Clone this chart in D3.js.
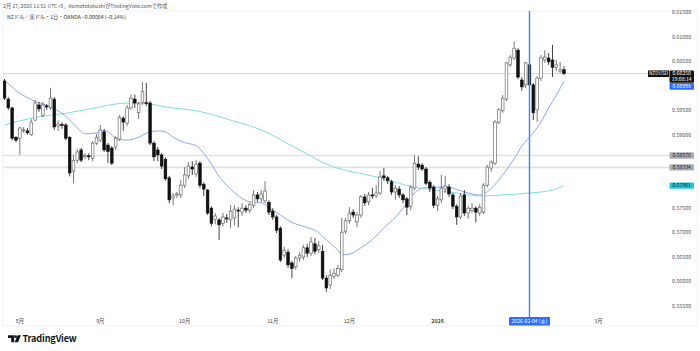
<!DOCTYPE html>
<html lang="ja">
<head>
<meta charset="UTF-8">
<title>NZDUSD 1D</title>
<script src="https://d3js.org/d3.v7.min.js"></script>
<style>
  body { margin: 0; background: #fff; }
  text { font-family: "Noto Sans CJK JP", "Noto Sans", sans-serif; }
</style>
</head>
<body>
<svg id="chart" width="700" height="351"></svg>
<script>
// daily bars, weekdays from 2025-07-28 to 2026-02-17
const firstDay = "2025-07-28";
const opens = [0.6010,0.5973,0.5955,0.5895,0.5893,0.5908,0.5908,0.5900,0.5930,0.5961,0.5940,0.5959,0.5955,0.5973,0.5918,0.5921,0.5920,0.5895,0.5826,0.5848,
  0.5869,0.5855,0.5857,0.5852,0.5883,0.5889,0.5906,0.5879,0.5873,0.5875,0.5891,0.5934,0.5924,0.5955,0.5973,0.5945,0.5966,0.5966,0.5965,0.5883,
  0.5869,0.5859,0.5850,0.5812,0.5771,0.5777,0.5777,0.5797,0.5816,0.5834,0.5820,0.5842,0.5799,0.5787,0.5750,0.5727,0.5726,0.5719,0.5730,0.5726,
  0.5730,0.5746,0.5742,0.5750,0.5746,0.5756,0.5777,0.5769,0.5765,0.5762,0.5744,0.5732,0.5709,0.5654,0.5660,0.5638,0.5630,0.5648,0.5650,0.5669,
  0.5658,0.5677,0.5665,0.5662,0.5607,0.5593,0.5611,0.5613,0.5624,0.5703,0.5724,0.5742,0.5722,0.5736,0.5773,0.5763,0.5777,0.5775,0.5781,0.5816,
  0.5812,0.5804,0.5783,0.5789,0.5777,0.5769,0.5754,0.5791,0.5840,0.5838,0.5830,0.5803,0.5793,0.5756,0.5767,0.5789,0.5793,0.5777,0.5754,0.5732,
  0.5777,0.5740,0.5745,0.5750,0.5740,0.5742,0.5797,0.5832,0.5842,0.5926,0.5949,0.5973,0.6043,0.6057,0.6073,0.6012,0.6002,0.6043,0.6002,0.5951,
  0.6016,0.6053,0.6057,0.6053,0.6038,0.6030,0.6033];
const highs = [0.6014,0.5977,0.5957,0.5897,0.5916,0.5916,0.5914,0.5932,0.5971,0.5967,0.5967,0.5963,0.5996,0.5977,0.5930,0.5926,0.5924,0.5897,0.5859,0.5871,
  0.5873,0.5863,0.5862,0.5887,0.5902,0.5920,0.5912,0.5883,0.5877,0.5897,0.5940,0.5938,0.5961,0.5982,0.5982,0.5967,0.6008,0.6006,0.5969,0.5887,
  0.5875,0.5863,0.5854,0.5816,0.5781,0.5783,0.5807,0.5834,0.5844,0.5846,0.5848,0.5846,0.5803,0.5789,0.5754,0.5740,0.5730,0.5740,0.5738,0.5756,
  0.5756,0.5752,0.5760,0.5756,0.5762,0.5787,0.5783,0.5787,0.5805,0.5766,0.5750,0.5736,0.5713,0.5671,0.5666,0.5642,0.5652,0.5660,0.5675,0.5677,
  0.5691,0.5689,0.5683,0.5675,0.5613,0.5625,0.5627,0.5634,0.5730,0.5730,0.5752,0.5748,0.5742,0.5777,0.5779,0.5783,0.5791,0.5797,0.5826,0.5832,
  0.5816,0.5808,0.5797,0.5795,0.5781,0.5773,0.5797,0.5858,0.5856,0.5842,0.5834,0.5807,0.5797,0.5775,0.5818,0.5816,0.5799,0.5781,0.5758,0.5781,
  0.5787,0.5754,0.5760,0.5754,0.5758,0.5801,0.5838,0.5848,0.5930,0.5955,0.5981,0.6049,0.6063,0.6091,0.6077,0.6018,0.6049,0.6047,0.6006,0.6020,
  0.6063,0.6073,0.6067,0.6084,0.6053,0.6049,0.6040];
const lows = [0.5971,0.5951,0.5889,0.5885,0.5859,0.5904,0.5900,0.5898,0.5928,0.5947,0.5936,0.5951,0.5951,0.5910,0.5908,0.5912,0.5889,0.5815,0.5801,0.5842,
  0.5844,0.5850,0.5848,0.5846,0.5879,0.5885,0.5865,0.5842,0.5838,0.5869,0.5887,0.5908,0.5918,0.5951,0.5955,0.5932,0.5961,0.5959,0.5879,0.5846,
  0.5846,0.5830,0.5806,0.5760,0.5756,0.5771,0.5771,0.5791,0.5810,0.5818,0.5814,0.5791,0.5775,0.5736,0.5713,0.5717,0.5685,0.5713,0.5720,0.5709,
  0.5715,0.5711,0.5734,0.5740,0.5740,0.5750,0.5763,0.5762,0.5760,0.5736,0.5726,0.5699,0.5640,0.5648,0.5628,0.5607,0.5624,0.5640,0.5644,0.5650,
  0.5652,0.5656,0.5658,0.5603,0.5579,0.5585,0.5605,0.5609,0.5619,0.5697,0.5718,0.5730,0.5711,0.5730,0.5755,0.5756,0.5769,0.5771,0.5777,0.5806,
  0.5799,0.5777,0.5767,0.5771,0.5760,0.5736,0.5746,0.5787,0.5828,0.5826,0.5797,0.5783,0.5750,0.5744,0.5760,0.5781,0.5773,0.5748,0.5716,0.5728,
  0.5734,0.5728,0.5740,0.5721,0.5734,0.5738,0.5793,0.5824,0.5838,0.5922,0.5945,0.5969,0.6039,0.6053,0.6014,0.5990,0.5996,0.5996,0.5930,0.5926,
  0.6010,0.6047,0.6043,0.6018,0.6030,0.6026,0.6022];
const closes = [0.5975,0.5955,0.5893,0.5889,0.5914,0.5910,0.5904,0.5926,0.5965,0.5953,0.5961,0.5957,0.5975,0.5916,0.5922,0.5919,0.5893,0.5822,0.5848,0.5865,
  0.5848,0.5858,0.5855,0.5883,0.5895,0.5910,0.5869,0.5866,0.5842,0.5893,0.5936,0.5926,0.5955,0.5975,0.5965,0.5963,0.5988,0.5964,0.5883,0.5855,
  0.5859,0.5836,0.5810,0.5767,0.5775,0.5779,0.5797,0.5818,0.5836,0.5830,0.5840,0.5797,0.5789,0.5740,0.5719,0.5734,0.5716,0.5732,0.5728,0.5744,
  0.5748,0.5744,0.5750,0.5746,0.5758,0.5777,0.5769,0.5779,0.5785,0.5742,0.5732,0.5705,0.5644,0.5664,0.5634,0.5627,0.5648,0.5654,0.5669,0.5658,
  0.5681,0.5662,0.5673,0.5607,0.5587,0.5613,0.5617,0.5627,0.5701,0.5724,0.5740,0.5736,0.5736,0.5773,0.5761,0.5777,0.5775,0.5781,0.5814,0.5812,
  0.5806,0.5783,0.5791,0.5777,0.5767,0.5752,0.5793,0.5842,0.5834,0.5830,0.5801,0.5791,0.5756,0.5769,0.5791,0.5795,0.5779,0.5754,0.5732,0.5775,
  0.5740,0.5750,0.5750,0.5742,0.5752,0.5797,0.5834,0.5844,0.5926,0.5951,0.5975,0.6047,0.6059,0.6077,0.6018,0.5998,0.6047,0.6002,0.5945,0.6016,
  0.6057,0.6059,0.6049,0.6038,0.6043,0.6033,0.6025];

// moving averages (bar index -> value)
const fastMaBars = [0,4,7,12,16,19,21,24,26,29,32,35,37,40,42,44,47,50,52,54,56,58,60,62,64,67,69,72,75,77,80,82,83,85,87,88,90,93,96,99,102,104,107,109,112,114,116,118,121,124,125,127,130,133,135,137,140,142,144,145,146];
const fastMaValues = [0.6012,0.5985,0.5972,0.5957,0.5938,0.5914,0.5902,0.5904,0.5909,0.5894,0.5889,0.5895,0.5903,0.5908,0.5906,0.5895,0.5884,0.5878,0.5862,0.5840,0.5815,0.5797,0.5782,0.5770,0.5763,0.5761,0.5751,0.5736,0.5721,0.5715,0.5708,0.5700,0.5692,0.5679,0.5664,0.5655,0.5656,0.5669,0.5686,0.5710,0.5731,0.5750,0.5781,0.5791,0.5793,0.5793,0.5793,0.5788,0.5781,0.5777,0.5779,0.5790,0.5818,0.5851,0.5877,0.5895,0.5926,0.5955,0.5981,0.5995,0.60098];
const slowMaBars = [0,7,16,25,29,33,38,42,50,55,59,67,77,86,91,97,102,107,112,118,124,130,137,143,146];
const slowMaValues = [0.5920,0.5934,0.5944,0.5957,0.5963,0.5965,0.5963,0.5957,0.5949,0.5940,0.5930,0.5910,0.5869,0.5834,0.5824,0.5814,0.5803,0.5793,0.5787,0.5781,0.5775,0.5777,0.5781,0.5787,0.57961];

const priceTicks = [0.555,0.560,0.565,0.570,0.575,0.580,0.585,0.590,0.595,0.600,0.605,0.610,0.615];
const hLines = [0.58578, 0.58334];
const lastPrice = 0.60250;
const markedDay = "2026-02-04";

const svg = d3.select("#chart");
const plot = { left: 3, right: 670, top: 11, bottom: 313 };

// trading days
const parse = d3.timeParse("%Y-%m-%d");
const days = d3.timeDay.range(parse(firstDay), parse("2026-03-07"))
  .filter(d => d.getDay() !== 0 && d.getDay() !== 6);
const bars = closes.map((c, i) => ({ i, date: days[i], o: opens[i], h: highs[i], l: lows[i], c }));

const x = d3.scaleLinear().domain([0, 146]).range([4.5, 4.5 + 146 * 3.832]);
const y = d3.scaleLinear().domain([0.555, 0.615]).range([306, 12.5]);

// header
svg.append("text").attr("x", 3).attr("y", 7.5).attr("font-size", 5.2).attr("fill", "#555")
  .text("2月 17, 2026 11:51 UTC+9、domototakushiがTradingView.comで作成");
svg.append("rect").attr("x", plot.left).attr("y", plot.top).attr("width", 694).attr("height", 315)
  .attr("fill", "none").attr("stroke", "#eceef2").attr("stroke-width", 0.8);
svg.append("text").attr("x", 7).attr("y", 18.5).attr("font-size", 5.2).attr("fill", "#333")
  .text("NZドル／米ドル・1日・OANDA  −0.00084 (−0.14%)");

svg.append("clipPath").attr("id", "clip").append("rect")
  .attr("x", plot.left).attr("y", plot.top).attr("width", plot.right - plot.left).attr("height", plot.bottom - plot.top);
const g = svg.append("g").attr("clip-path", "url(#clip)");

// horizontal levels
g.selectAll("line.level").data(hLines).join("line").attr("class", "level")
  .attr("x1", plot.left).attr("x2", plot.right).attr("y1", d => y(d)).attr("y2", d => y(d))
  .attr("stroke", "#e2e2e2").attr("stroke-width", 1.6);
g.append("line").attr("x1", plot.left).attr("x2", 648).attr("y1", y(lastPrice)).attr("y2", y(lastPrice))
  .attr("stroke", "#c9c9c9").attr("stroke-width", 0.8);

// marked day line
const markIdx = days.findIndex(d => d3.timeFormat("%Y-%m-%d")(d) === markedDay);
svg.append("line").attr("x1", x(markIdx)).attr("x2", x(markIdx)).attr("y1", plot.top).attr("y2", 317)
  .attr("stroke", "#4a7dff").attr("stroke-width", 1.4);

// moving averages
const maLine = d3.line().x(d => x(d[0])).y(d => y(d[1])).curve(d3.curveMonotoneX);
g.append("path").datum(d3.zip(slowMaBars, slowMaValues)).attr("d", maLine)
  .attr("fill", "none").attr("stroke", "#7fdde6").attr("stroke-width", 1);
g.append("path").datum(d3.zip(fastMaBars, fastMaValues)).attr("d", maLine)
  .attr("fill", "none").attr("stroke", "#8ea6f4").attr("stroke-width", 1);

// candles
const bw = 2.7;
g.selectAll("line.wick").data(bars).join("line").attr("class", "wick")
  .attr("x1", d => x(d.i)).attr("x2", d => x(d.i)).attr("y1", d => y(d.h)).attr("y2", d => y(d.l))
  .attr("stroke", d => d.c >= d.o ? "#555" : "#111").attr("stroke-width", 0.8);
g.selectAll("rect.body").data(bars).join("rect").attr("class", "body")
  .attr("x", d => x(d.i) - bw / 2).attr("width", bw)
  .attr("y", d => y(Math.max(d.o, d.c)))
  .attr("height", d => Math.max(0.8, Math.abs(y(d.o) - y(d.c))))
  .attr("fill", d => d.c >= d.o ? "#fff" : "#111")
  .attr("stroke", d => d.c >= d.o ? "#555" : "#111").attr("stroke-width", 0.6);

// price axis tags
function priceTag(top, h, bg, fg, lines) {
  svg.append("rect").attr("x", 669.5).attr("y", top).attr("width", 24.5).attr("height", h).attr("rx", 1).attr("fill", bg);
  lines.forEach((t, k) => svg.append("text").attr("x", 681.7).attr("y", top + 4.6 + k * 5.6)
    .attr("text-anchor", "middle").attr("font-size", 5.1).attr("fill", fg).text(t));
  return top + h / 2;
}
const lastTop = y(lastPrice) - 3.2;
svg.append("rect").attr("x", 648).attr("y", lastTop).attr("width", 21).attr("height", 6.6).attr("fill", "#131313");
svg.append("text").attr("x", 658.5).attr("y", y(lastPrice) + 1.8).attr("text-anchor", "middle")
  .attr("font-size", 4.8).attr("fill", "#fff").text("NZDUSD");
const tagCenters = [];
tagCenters.push(priceTag(lastTop, 12.2, "#131313", "#fff", [lastPrice.toFixed(5), "19:08:14"]));
const fastLast = fastMaValues[fastMaValues.length - 1];
// pushed below the last-price tag so they do not overlap
tagCenters.push(priceTag(Math.max(y(fastLast) - 3.3, lastTop + 12.6), 6.6, "#2e6bff", "#fff", [fastLast.toFixed(5)]));
hLines.forEach(v => tagCenters.push(priceTag(y(v) - 3.2, 6.4, "#a9acb4", "#222", [v.toFixed(5)])));
const slowLast = slowMaValues[slowMaValues.length - 1];
tagCenters.push(priceTag(y(slowLast) - 3.2, 6.4, "#22c5da", "#123", [slowLast.toFixed(5)]));

svg.selectAll("text.tick").data(priceTicks.filter(p => tagCenters.every(c => Math.abs(c - y(p)) > 6)))
  .join("text").attr("class", "tick")
  .attr("x", 672).attr("y", d => y(d)).attr("dy", "0.35em")
  .attr("font-size", 5.3).attr("fill", "#555").text(d => d.toFixed(5));

// time axis
const monthStarts = days.filter((d, i) => i === 0 || d.getMonth() !== days[i - 1].getMonth()).slice(1);
svg.selectAll("text.month").data(monthStarts).join("text").attr("class", "month")
  .attr("x", d => x(days.indexOf(d))).attr("y", 323).attr("text-anchor", "middle")
  .attr("font-size", 5.3).attr("fill", "#444")
  .attr("font-weight", d => d.getMonth() === 0 ? "bold" : null)
  .text(d => d.getMonth() === 0 ? d.getFullYear() : (d.getMonth() + 1) + "月")
  .attr("display", d => Math.abs(days.indexOf(d) - markIdx) < 8 ? "none" : null);
svg.append("rect").attr("x", x(markIdx) - 20.5).attr("y", 317).attr("width", 41).attr("height", 8.5).attr("rx", 1).attr("fill", "#2e6bff");
svg.append("text").attr("x", x(markIdx)).attr("y", 323).attr("text-anchor", "middle")
  .attr("font-size", 5.1).attr("fill", "#fff").text(markedDay + " (水)");

// logo
const logo = svg.append("g").attr("fill", "#131722");
logo.append("path").attr("d", "M8,335.2 h6.2 v7 h-3 v-4.1 h-3.2 z");
logo.append("circle").attr("cx", 15.6).attr("cy", 336.7).attr("r", 1.4);
logo.append("path").attr("d", "M17.6,335.2 h3.4 l-3,7 h-3.4 z");
svg.append("text").attr("x", 22.5).attr("y", 342.2).attr("font-size", 9.2).attr("font-weight", 600)
  .attr("fill", "#131722").attr("letter-spacing", -0.2).text("TradingView");
</script>
</body>
</html>
